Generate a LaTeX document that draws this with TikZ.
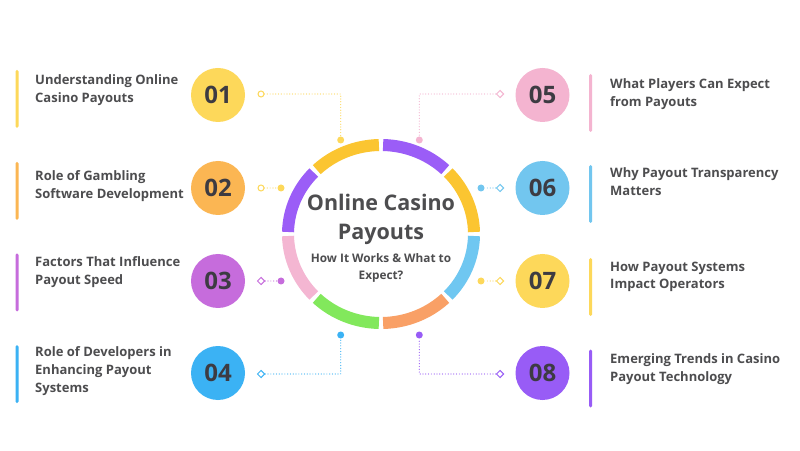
\documentclass[tikz,border=0pt]{standalone}
\usepackage{fontspec}
\setmainfont{Open Sans}
\usetikzlibrary{positioning}
\usetikzlibrary{shapes.geometric}

\definecolor{inktext}{HTML}{4D4D4F}
\definecolor{numtext}{HTML}{3D3B42}
\definecolor{ringpurple}{HTML}{9B5DF7}
\definecolor{ringyellow}{HTML}{FBC531}
\definecolor{ringpink}{HTML}{F4B6D2}
\definecolor{ringgreen}{HTML}{82E85C}
\definecolor{ringorange}{HTML}{F9A066}
\definecolor{ringblue}{HTML}{6FC7F1}
\definecolor{cyellow}{HTML}{FDD85A}
\definecolor{corange}{HTML}{FBB653}
\definecolor{cviolet}{HTML}{C66CDC}
\definecolor{cblue}{HTML}{3BB2F4}
\definecolor{cpink}{HTML}{F4B4D0}
\definecolor{csky}{HTML}{72C6EF}
\definecolor{cpurple}{HTML}{985CF6}

\begin{document}
\begin{tikzpicture}[x=1pt,y=1pt,
  num/.style={circle,minimum size=54pt,inner sep=0pt,font=\fontsize{24}{24}\selectfont\bfseries,text=numtext},
  bar/.style={rectangle,rounded corners=1.5pt,minimum width=3pt,minimum height=58pt,inner sep=0pt},
  caption/.style={anchor=west,align=left,inner sep=0pt,font=\fontsize{13}{17.7}\selectfont\bfseries,text=inktext},
  link/.style={line width=1.2pt,line cap=round,dash pattern=on 0pt off 2.8pt},
  knob/.style={circle,minimum size=7pt,inner sep=0pt},
  hollow/.style={circle,draw,line width=1pt,fill=white,minimum size=6pt,inner sep=0pt},
  hollowdiamond/.style={diamond,draw,line width=1pt,fill=white,minimum size=7.5pt,inner sep=0pt},
  seg/.style={line width=12pt}]
  \useasboundingbox[fill=white] (0,0) rectangle (800,450);

  %ring
  \coordinate (c) at (381,216);
  \draw[seg,ringyellow] (c) ++(1.3:93 and 89) arc[start angle=1.3,end angle=43.7,x radius=93,y radius=89];
  \draw[seg,ringpurple] (c) ++(46.3:93 and 89) arc[start angle=46.3,end angle=88.7,x radius=93,y radius=89];
  \draw[seg,ringyellow] (c) ++(91.3:93 and 89) arc[start angle=91.3,end angle=133.7,x radius=93,y radius=89];
  \draw[seg,ringpurple] (c) ++(136.3:93 and 89) arc[start angle=136.3,end angle=178.7,x radius=93,y radius=89];
  \draw[seg,ringpink] (c) ++(181.3:93 and 89) arc[start angle=181.3,end angle=223.7,x radius=93,y radius=89];
  \draw[seg,ringgreen] (c) ++(226.3:93 and 89) arc[start angle=226.3,end angle=268.7,x radius=93,y radius=89];
  \draw[seg,ringorange] (c) ++(271.3:93 and 89) arc[start angle=271.3,end angle=313.7,x radius=93,y radius=89];
  \draw[seg,ringblue] (c) ++(316.3:93 and 89) arc[start angle=316.3,end angle=358.7,x radius=93,y radius=89];
  %title
  \node[align=center,inner sep=0pt,font=\fontsize{21.5}{29}\selectfont\bfseries,text=inktext] (head) at (381,230.5) {Online Casino\\Payouts};
  \node[align=center,inner sep=0pt,font=\fontsize{11.8}{17}\selectfont\bfseries,text=inktext] (sub) at (381,182.5) {How It Works \& What to\\Expect?};

  %left
  \node[num,fill=cyellow] (n1) at (218,355) {01};
  \node[num,fill=corange] (n2) at (218,262) {02};
  \node[num,fill=cviolet] (n3) at (218,169) {03};
  \node[num,fill=cblue] (n4) at (218,77) {04};
  \node[bar,fill=cyellow] (b1) at (17,351) {};
  \node[bar,fill=corange] (b2) at (17,259) {};
  \node[bar,fill=cviolet] (b3) at (17,167.5) {};
  \node[bar,fill=cblue] (b4) at (17,76) {};
  \node[caption] (t1) at (35,359.6) {Understanding Online\\Casino Payouts};
  \node[caption] (t2) at (35,264) {Role of Gambling\\Software Development};
  \node[caption] (t3) at (35,178) {Factors That Influence\\Payout Speed};
  \node[caption] (t4) at (35,79) {Role of Developers in\\Enhancing Payout\\Systems};
  %left connectors
  \node[hollow,draw=cyellow] (m1) at (261,356) {};
  \node[knob,fill=cyellow] (d1) at (340.7,310) {};
  \draw[link,cyellow] (m1) -| (d1);
  \node[hollow,draw=cyellow] (m2) at (261,262) {};
  \node[knob,fill=cyellow] (d2) at (281,262) {};
  \draw[link,cyellow] (m2) -- (d2);
  \node[hollowdiamond,draw=cviolet] (m3) at (261,169) {};
  \node[knob,fill=cviolet] (d3) at (281,169) {};
  \draw[link,cviolet] (m3) -- (d3);
  \node[hollowdiamond,draw=cblue] (m4) at (261,76) {};
  \node[knob,fill=cblue] (d4) at (340.7,115) {};
  \draw[link,cblue] (m4) -| (d4);

  %right
  \node[num,fill=cpink] (n5) at (542.5,355) {05};
  \node[num,fill=csky] (n6) at (542.5,262) {06};
  \node[num,fill=cyellow] (n7) at (542.5,169) {07};
  \node[num,fill=cpurple] (n8) at (542.5,77) {08};
  \node[bar,fill=cpink] (b5) at (590.7,347) {};
  \node[bar,fill=csky] (b6) at (590.7,256) {};
  \node[bar,fill=cyellow] (b7) at (590.7,163) {};
  \node[bar,fill=cpurple] (b8) at (590.7,71.5) {};
  \node[caption] (t5) at (610,356) {What Players Can Expect\\from Payouts};
  \node[caption] (t6) at (610,268.5) {Why Payout Transparency\\Matters};
  \node[caption] (t7) at (610,173) {How Payout Systems\\Impact Operators};
  \node[caption] (t8) at (610,81) {Emerging Trends in Casino\\Payout Technology};
  %right connectors
  \node[hollowdiamond,draw=cpink] (m5) at (500,356) {};
  \node[knob,fill=cpink] (d5) at (419.3,310) {};
  \draw[link,cpink] (m5) -| (d5);
  \node[hollowdiamond,draw=csky] (m6) at (500,262) {};
  \node[knob,fill=csky] (d6) at (481,262) {};
  \draw[link,csky] (m6) -- (d6);
  \node[hollowdiamond,draw=cyellow] (m7) at (500,169) {};
  \node[knob,fill=cyellow] (d7) at (481,169) {};
  \draw[link,cyellow] (m7) -- (d7);
  \node[hollowdiamond,draw=cpurple] (m8) at (500,76) {};
  \node[knob,fill=cpurple] (d8) at (419.3,115) {};
  \draw[link,cpurple] (m8) -| (d8);
\end{tikzpicture}
\end{document}
